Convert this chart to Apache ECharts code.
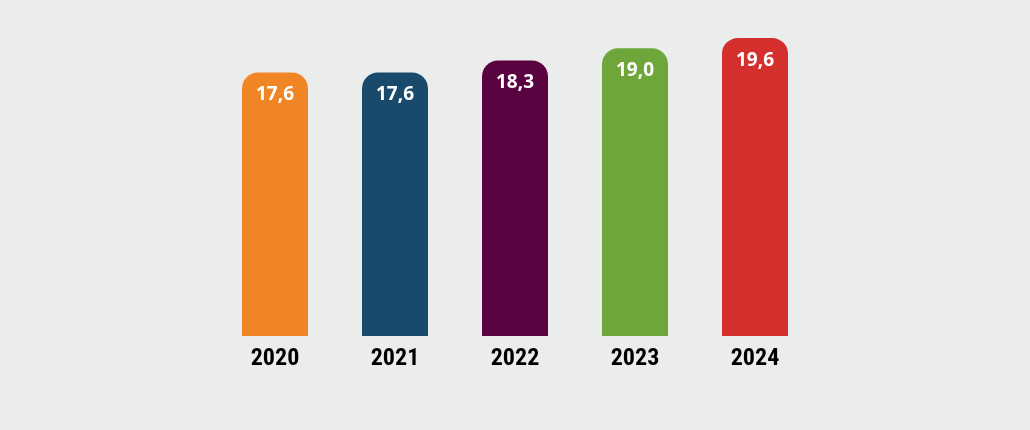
<!DOCTYPE html>
<html><head><meta charset="utf-8">
<script src="https://cdn.jsdelivr.net/npm/echarts@6/dist/echarts.min.js"></script>
<style>html,body{margin:0;padding:0;background:#ebedec;}#c{width:1030px;height:430px;}</style>
</head><body><div id="c"></div>
<script>
const categories = ['2020','2021','2022','2023','2024'];
const values = [17.6, 17.6, 18.3, 19.0, 19.6];
const labels = ['17,6','17,6','18,3','19,0','19,6'];
const colors = ['#f08526','#1a4a6b','#5a0341','#6fa63a','#d42f2d'];

const chart = echarts.init(document.getElementById('c'));
chart.setOption({
  backgroundColor: '#ebedec',
  animation: false,
  grid: {left: 215, right: 215, top: 31, bottom: 94},
  xAxis: {
    type: 'category', data: categories,
    axisLine: {show: false}, axisTick: {show: false},
    axisLabel: {color: '#000', fontWeight: 'bold', fontSize: 24, margin: 11,
      fontFamily: '"Liberation Sans Narrow", "Roboto Condensed", "Open Sans", sans-serif'}
  },
  yAxis: {type: 'value', min: 2.4, max: 20, show: false, splitLine: {show: false}},
  series: [{
    type: 'bar', barWidth: 66,
    data: values.map((v, i) => ({value: v, itemStyle: {color: colors[i]}})),
    itemStyle: {borderRadius: [16, 16, 0, 0]},
    label: {show: true, position: 'insideTop', distance: 13, color: '#fff',
      fontWeight: 'bold', fontSize: 19, fontFamily: '"Open Sans", sans-serif',
      formatter: p => labels[p.dataIndex]}
  }]
});
</script></body></html>
